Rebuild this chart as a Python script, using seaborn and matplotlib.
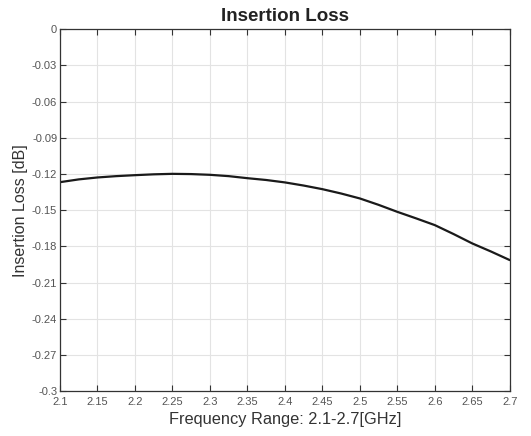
import numpy as np
import pandas as pd
import matplotlib
matplotlib.use('agg')
import matplotlib.pyplot as plt
import seaborn as sns

# values
freq = [2.1, 2.125, 2.15, 2.175, 2.2, 2.225, 2.25, 2.275, 2.3, 2.325, 2.35, 2.375,
        2.4, 2.425, 2.45, 2.475, 2.5, 2.525, 2.55, 2.575, 2.6, 2.625, 2.65, 2.675, 2.7]
loss = [-0.1268, -0.1245, -0.1229, -0.1218, -0.1210, -0.1203, -0.1199, -0.1201, -0.1207,
        -0.1218, -0.1235, -0.1250, -0.1270, -0.1296, -0.1326, -0.1362, -0.1403, -0.1456,
        -0.1514, -0.1568, -0.1624, -0.1698, -0.1776, -0.1843, -0.1914]
xticks = [2.1, 2.15, 2.2, 2.25, 2.3, 2.35, 2.4, 2.45, 2.5, 2.55, 2.6, 2.65, 2.7]
xlabels = ['2.1', '2.15', '2.2', '2.25', '2.3', '2.35', '2.4', '2.45', '2.5', '2.55', '2.6', '2.65', '2.7']
yticks = [0, -0.03, -0.06, -0.09, -0.12, -0.15, -0.18, -0.21, -0.24, -0.27, -0.3]
ylabels = ['0', '-0.03', '-0.06', '-0.09', '-0.12', '-0.15', '-0.18', '-0.21', '-0.24', '-0.27', '-0.3']

df = pd.DataFrame({'freq': freq, 'loss': loss})

sns.set_style('whitegrid')
plt.rcParams['font.family'] = ['Liberation Sans', 'DejaVu Sans']

fig = plt.figure(figsize=(5.31, 4.36), dpi=100)
ax = fig.add_axes([0.113, 0.103, 0.847, 0.830])
sns.lineplot(data=df, x='freq', y='loss', color='#1a1a1a', linewidth=1.6, ax=ax)

ax.set_xlim(2.1, 2.7)
ax.set_ylim(-0.3, 0)
ax.set_xticks(xticks)
ax.set_xticklabels(xlabels)
ax.set_yticks(yticks)
ax.set_yticklabels(ylabels)
ax.grid(True, color='#e3e3e3', linewidth=0.8)
for s in ax.spines.values():
    s.set_visible(True)
    s.set_color('#333333')
    s.set_linewidth(0.9)
ax.tick_params(axis='both', direction='in', length=4, width=0.8, color='#333333',
               labelsize=8, labelcolor='#555555', top=True, right=True,
               bottom=True, left=True)
ax.tick_params(axis='x', pad=4)
ax.tick_params(axis='y', pad=2)

ax.set_title('Insertion Loss', fontsize=13.5, fontweight='bold', color='#222222', pad=6)
ax.set_xlabel('Frequency Range: 2.1-2.7[GHz]', fontsize=11.8, color='#333333', labelpad=4)
ax.set_ylabel('Insertion Loss [dB]', fontsize=11.5, color='#333333', labelpad=3)

fig.savefig('out.png', dpi=100)
